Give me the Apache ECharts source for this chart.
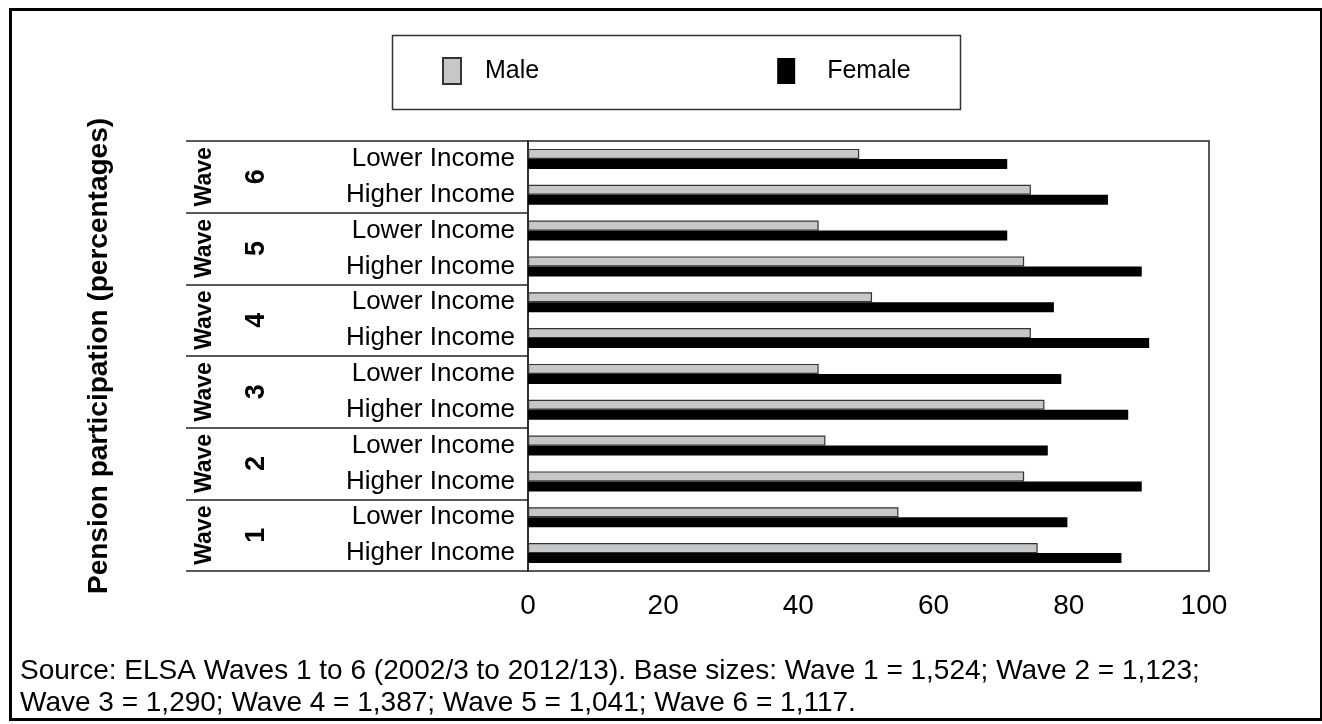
<!DOCTYPE html>
<html>
<head>
<meta charset="utf-8">
<title>Pension participation by wave, income and sex</title>
<script src="https://cdn.jsdelivr.net/npm/echarts@6/dist/echarts.min.js"></script>
<style>
  html, body { margin: 0; padding: 0; background: #ffffff; }
  #chart { width: 1322px; height: 724px; }
</style>
</head>
<body>
<div id="chart"></div>
<script>
// Survey waves, listed top to bottom
const waves = ['Wave 6', 'Wave 5', 'Wave 4', 'Wave 3', 'Wave 2', 'Wave 1'];
const incomeGroups = ['Lower Income', 'Higher Income'];
// One row per wave and income group, e.g. "Wave 6|Lower Income"
const rows = waves.flatMap(w => incomeGroups.map(g => w + '|' + g));

// Pension participation (%), same row order as above
const maleValues   = [49.0, 74.4, 43.0, 73.4, 50.9, 74.4, 43.0, 76.4, 44.0, 73.4, 54.8, 75.4];
const femaleValues = [70.9, 85.8, 70.9, 90.8, 77.8, 91.9, 78.9, 88.8, 76.9, 90.8, 79.8, 87.8];

const seriesNames = ['Male', 'Female'];
// Axis runs a hair past 100 so the plot frame sits just right of the last tick
const xMin = 0, xMax = 100.75, xStep = 20;

const axisTitle = 'Pension participation (percentages)';
const sourceNote = 'Source: ELSA Waves 1 to 6 (2002/3 to 2012/13). Base sizes: Wave 1 = 1,524; Wave 2 = 1,123;\n' +
                   'Wave 3 = 1,290; Wave 4 = 1,387; Wave 5 = 1,041; Wave 6 = 1,117.';

const FONT = 'Liberation Sans, Arial, Helvetica, sans-serif';
const INK = '#000000';
const LINE = '#222222';

const chart = echarts.init(document.getElementById('chart'), null, { renderer: 'canvas' });

chart.setOption({
  animation: false,
  backgroundColor: '#ffffff',
  textStyle: { fontFamily: FONT, color: INK },
  graphic: [
    { // outer frame
      type: 'rect', left: 8, top: 7, z: 10,
      shape: { width: 1311, height: 710 },
      style: { fill: 'none', stroke: INK, lineWidth: 3 }
    },
    { // legend box
      type: 'rect', left: 390, top: 33, z: 10,
      shape: { width: 568, height: 74 },
      style: { fill: 'none', stroke: '#333333', lineWidth: 1.5 }
    }
  ],
  title: {
    text: sourceNote,
    left: 20, top: 655, padding: 0,
    textStyle: { fontFamily: FONT, fontSize: 28, fontWeight: 'normal', color: INK, lineHeight: 32 }
  },
  legend: {
    data: [
      { name: seriesNames[0], textStyle: { padding: [4, 0, 0, 19] } },
      { name: seriesNames[1], textStyle: { padding: [0, 0, 0, 27] } }
    ],
    left: 442, top: 57, padding: 0,
    itemWidth: 18, itemHeight: 26, itemGap: 238,
    icon: 'rect',
    textStyle: { fontFamily: FONT, fontSize: 25, color: INK }
  },
  grid: {
    left: 528, top: 141, width: 681, height: 430,
    show: true, borderColor: LINE, borderWidth: 1.5, backgroundColor: 'transparent'
  },
  xAxis: {
    type: 'value',
    min: xMin, max: xMax, interval: xStep,
    axisLine: { show: false },
    axisTick: { show: false },
    splitLine: { show: false },
    axisLabel: { fontFamily: FONT, fontSize: 28, color: INK, margin: 21, showMaxLabel: false }
  },
  yAxis: [
    { // income rows
      type: 'category',
      data: rows,
      inverse: true,
      position: 'left',
      axisLine: { show: true, lineStyle: { color: LINE, width: 1.5 } },
      axisTick: { show: false },
      axisLabel: {
        interval: 0, margin: 13, fontFamily: FONT, fontSize: 26, color: INK,
        formatter: v => v.split('|')[1]
      },
      name: axisTitle,
      nameLocation: 'middle',
      nameRotate: 90,
      nameGap: 415,
      nameTextStyle: { fontFamily: FONT, fontSize: 28, fontWeight: 'bold', color: INK }
    },
    { // wave groups: separators and rotated labels
      type: 'category',
      data: waves,
      inverse: true,
      position: 'left',
      axisLine: { show: false },
      axisTick: { show: true, length: 342, interval: 0, lineStyle: { color: LINE, width: 1.5 } },
      axisLabel: {
        interval: 0, rotate: 90, margin: 297,
        align: 'center', verticalAlign: 'middle',
        formatter: v => {
          const parts = v.split(' ');
          return '{w|' + parts[0] + '}\n{n|' + parts[1] + '}';
        },
        rich: {
          w: { fontFamily: FONT, fontSize: 23, fontWeight: 'bold', color: INK, lineHeight: 52 },
          n: { fontFamily: FONT, fontSize: 27, fontWeight: 'bold', color: INK, lineHeight: 52 }
        }
      }
    }
  ],
  series: [
    {
      name: seriesNames[0], type: 'bar', yAxisIndex: 0,
      data: maleValues,
      barWidth: 10, barGap: '0%',
      itemStyle: { color: '#c6c7c9', borderColor: '#333333', borderWidth: 1.2 }
    },
    {
      name: seriesNames[1], type: 'bar', yAxisIndex: 0,
      data: femaleValues,
      barWidth: 10, barGap: '0%',
      itemStyle: { color: '#000000' }
    }
  ]
});
</script>
</body>
</html>
